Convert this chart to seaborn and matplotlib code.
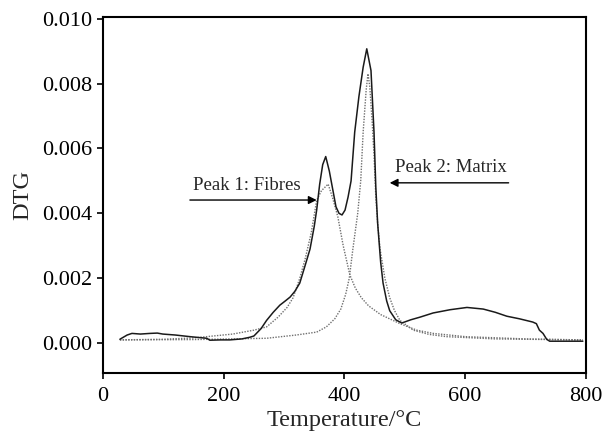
import matplotlib
matplotlib.use("Agg")
import matplotlib.pyplot as plt
import seaborn as sns
import pandas as pd
from matplotlib.ticker import FormatStrFormatter

# Measured DTG curve
total_T = [28, 40, 48, 62, 78, 90, 99, 120, 144, 172, 177, 195, 210, 230, 243, 250, 262, 271, 282,
           293, 302, 310, 318, 326, 335, 343, 350, 354, 359, 364, 369, 375, 381, 386, 391, 396, 401,
           406, 411, 417, 424, 431, 437, 444, 449, 452, 455, 460, 464, 470, 475, 485, 495, 510, 525,
           547, 575, 603, 630, 650, 669, 690, 712, 718, 723, 729, 735, 740, 795]
total_v = [0.00012, 0.00025, 0.00030, 0.00028, 0.00030, 0.00031, 0.00028, 0.00025, 0.00020, 0.00015,
           0.00009, 0.00010, 0.00010, 0.00013, 0.00018, 0.00022, 0.00045, 0.00070, 0.00095,
           0.00117, 0.00130, 0.00142, 0.00160, 0.00185, 0.00240, 0.00290, 0.00360, 0.00410, 0.00490,
           0.00550, 0.00575, 0.00530, 0.00470, 0.00420, 0.00400, 0.00395, 0.00410,
           0.00450, 0.00500, 0.00650, 0.00760, 0.00850, 0.00907, 0.00840, 0.00650, 0.00480, 0.00370,
           0.00250, 0.00185, 0.00130, 0.00100, 0.00072, 0.00062, 0.00072, 0.00080,
           0.00093, 0.00103, 0.00110, 0.00105, 0.00095, 0.00083, 0.00075, 0.00065, 0.00060, 0.00040,
           0.00030, 0.00012, 0.00006, 0.00006]

# Fitted peak 1 (fibres)
fib_T = [28, 100, 150, 215, 250, 271, 290, 305, 315, 326, 335, 345, 354, 362, 373, 380, 389, 398,
         409, 418, 428, 440, 460, 492, 520, 547, 600, 700, 795]
fib_v = [0.00010, 0.00012, 0.00016, 0.00028, 0.00040, 0.00050, 0.00080, 0.00110, 0.00140, 0.00200,
         0.00260, 0.00340, 0.00440, 0.00470, 0.00490, 0.00450, 0.00390, 0.00300,
         0.00210, 0.00170, 0.00140, 0.00115, 0.00088, 0.00060, 0.00040, 0.00030, 0.00020, 0.00013,
         0.00010]

# Fitted peak 2 (matrix)
mat_T = [28, 150, 271, 320, 354, 370, 384, 394, 402, 408, 414, 422, 427, 431, 436, 439, 442, 446,
         449, 452, 455, 459, 467, 475, 483, 492, 514, 540, 569, 650, 795]
mat_v = [0.00010, 0.00011, 0.00015, 0.00025, 0.00034, 0.00050, 0.00075, 0.00105, 0.00150, 0.00200,
         0.00290, 0.00400, 0.00500, 0.00650, 0.00780, 0.00830, 0.00790, 0.00680,
         0.00580, 0.00450, 0.00370, 0.00290, 0.00200, 0.00140, 0.00100, 0.00070, 0.00040, 0.00027,
         0.00020, 0.00013, 0.00010]

x_ticks = [0, 200, 400, 600, 800]
y_ticks = [0.000, 0.002, 0.004, 0.006, 0.008, 0.010]

sns.set_style("ticks")
plt.rcParams['font.family'] = ['Liberation Serif', 'DejaVu Serif']

fig = plt.figure(figsize=(6.04, 4.36), dpi=100)
ax = fig.add_axes([0.1705, 0.1445, 0.7995, 0.8165])

df_tot = pd.DataFrame({"T": total_T, "v": total_v})
df_fib = pd.DataFrame({"T": fib_T, "v": fib_v})
df_mat = pd.DataFrame({"T": mat_T, "v": mat_v})

sns.lineplot(data=df_fib, x="T", y="v", ax=ax, color="#707070", lw=1.0,
             linestyle=(0, (1, 1)), sort=False)
sns.lineplot(data=df_mat, x="T", y="v", ax=ax, color="#707070", lw=1.0,
             linestyle=(0, (1, 1)), sort=False)
sns.lineplot(data=df_tot, x="T", y="v", ax=ax, color="#1a1a1a", lw=1.1, sort=False)

ax.set_xlim(0, 800)
ax.set_ylim(-0.00092, 0.01005)
ax.set_xticks(x_ticks)
ax.set_yticks(y_ticks)
ax.yaxis.set_major_formatter(FormatStrFormatter('%.3f'))
ax.tick_params(axis='both', labelsize=16, length=4, width=1.2, direction='out', color='black',
               labelcolor='black')
ax.tick_params(axis='x', pad=6)
ax.tick_params(axis='y', pad=4)
for s in ax.spines.values():
    s.set_visible(True)
    s.set_linewidth(1.5)
    s.set_color('black')

ax.set_xlabel("Temperature/\u00b0C", fontsize=17.5, labelpad=3)
ax.set_ylabel("DTG", fontsize=17.5, labelpad=6)

ax.annotate("", xy=(354, 0.00441), xytext=(144, 0.00441),
            arrowprops=dict(arrowstyle='-|>', color='black', lw=1.0, mutation_scale=12,
                            shrinkA=0, shrinkB=0))
ax.text(238, 0.00485, "Peak 1: Fibres", fontsize=13.5, ha='center', va='center')

ax.annotate("", xy=(475, 0.00494), xytext=(672, 0.00494),
            arrowprops=dict(arrowstyle='-|>', color='black', lw=1.0, mutation_scale=12,
                            shrinkA=0, shrinkB=0))
ax.text(576, 0.0054, "Peak 2: Matrix", fontsize=13.5, ha='center', va='center')

fig.savefig("out.png", dpi=100)
